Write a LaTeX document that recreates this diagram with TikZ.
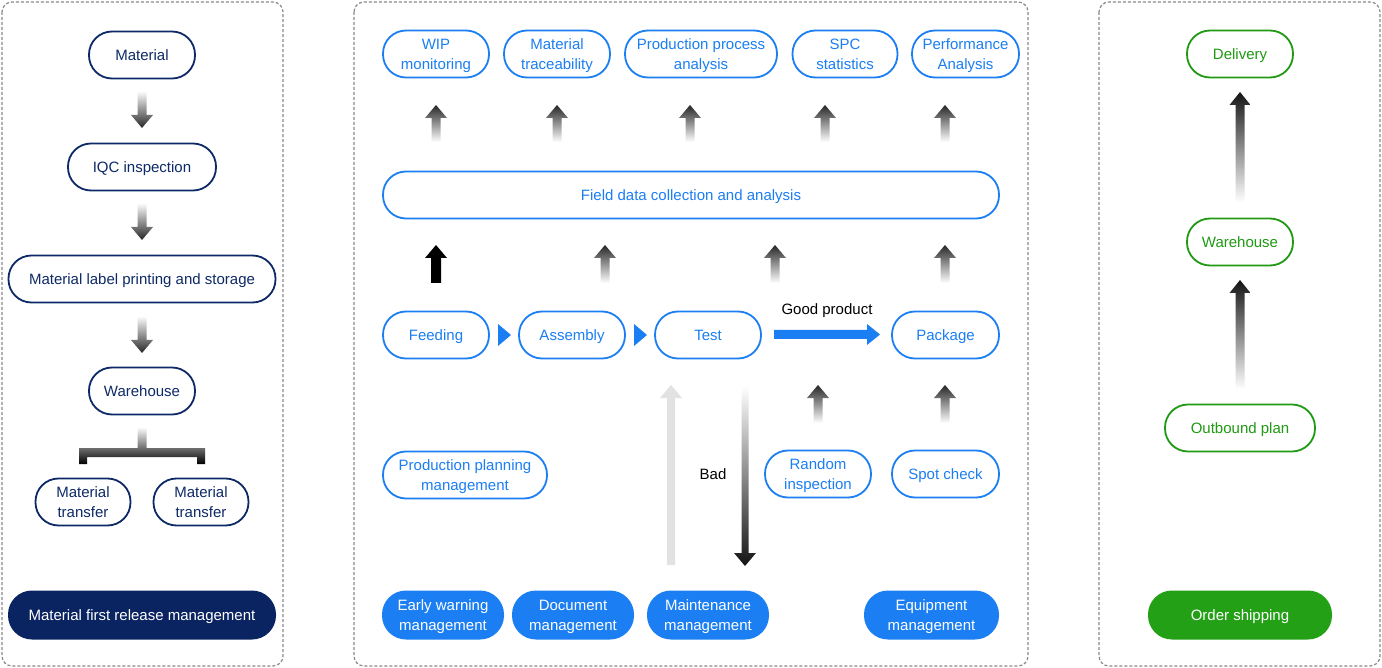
\documentclass[tikz,border=0pt]{standalone}
\usepackage{fontspec}
\setmainfont{Liberation Sans}
\usetikzlibrary{calc}
\definecolor{blu}{HTML}{1B7EF2}
\definecolor{navy}{HTML}{0E2A66}
\definecolor{navyfill}{HTML}{0A2361}
\definecolor{grn}{HTML}{1F9A12}
\definecolor{grnfill}{HTML}{24A017}
\definecolor{panelgray}{HTML}{8A8A8A}
\definecolor{lightgr}{HTML}{E2E2E2}
% block arrow: x, tip y, head-base y, tail y, half head, half shaft, style
\newcommand\blkarrow[7]{\path[#7] (#1-#5,#3) -- (#1,#2) -- (#1+#5,#3) -- (#1+#6,#3) -- (#1+#6,#4) -- (#1-#6,#4) -- (#1-#6,#3) -- cycle;}
\begin{document}
\begin{tikzpicture}[x=1pt,y=-1pt,
  basebox/.style={line width=1.8pt, rounded corners=23pt, minimum height=47pt, inner sep=0pt, align=center, font=\fontsize{15}{20}\selectfont, text depth=0pt},
  one/.style={text height=10.74pt},
  nbox/.style={basebox, draw=navy, text=navy},
  nfill/.style={basebox, fill=navyfill, text=white, minimum height=49pt, rounded corners=24pt},
  bbox/.style={basebox, draw=blu, text=blu},
  bfill/.style={basebox, fill=blu, text=white, minimum height=49pt, rounded corners=24pt},
  gbox/.style={basebox, draw=grn, text=grn},
  gfill/.style={basebox, fill=grnfill, text=white, minimum height=49pt, rounded corners=24pt},
  panel/.style={draw=panelgray, line width=1.2pt, dash pattern=on 3pt off 2pt, rounded corners=10pt},
  lbl/.style={font=\fontsize{15}{18}\selectfont, text=black, inner sep=0pt, text height=10.74pt, text depth=0pt},
  upgrad/.style={top color=black!85, bottom color=white},
  downgrad/.style={top color=white, bottom color=black!85}
]
\useasboundingbox (0,0) rectangle (1382,668);
\fill[white] (0,0) rectangle (1382,668);
% panels
\draw[panel] (2,2) rectangle (283,666);
\draw[panel] (354,2) rectangle (1028,666);
\draw[panel] (1099,2) rectangle (1380,666);

% ---------- left panel ----------
\node[nbox, one, minimum width=106pt] (mat) at (142,55) {Material};
\node[nbox, one, minimum width=148pt] (iqc) at (142,167) {IQC inspection};
\node[nbox, one, minimum width=267pt] (lab) at (142,279) {Material label printing and storage};
\node[nbox, one, minimum width=106pt] (wh) at (142,391) {Warehouse};
\node[nbox, minimum width=95pt] (mt1) at (83,502) {Material\\transfer};
\node[nbox, minimum width=95pt] (mt2) at (201,502) {Material\\transfer};
\node[nfill, one, minimum width=268pt] (mfr) at (142,615) {Material first release management};

\blkarrow{142}{128}{115}{91}{11}{4.5}{downgrad}
\blkarrow{142}{240}{227}{203}{11}{4.5}{downgrad}
\blkarrow{142}{353}{340}{316}{11}{4.5}{downgrad}
% T connector
\shade[top color=white, middle color=black!65, bottom color=black]
  (137.5,427) -- (146.5,427) -- (146.5,448) -- (205,448) -- (205,464) -- (197,464) -- (197,457)
  -- (87,457) -- (87,464) -- (79,464) -- (79,448) -- (137.5,448) -- cycle;

% ---------- middle panel ----------
\node[bbox, minimum width=106pt] (wip) at (436,54) {WIP\\monitoring};
\node[bbox, minimum width=106pt] (mtr) at (557,54) {Material\\traceability};
\node[bbox, minimum width=152pt] (ppa) at (701,54) {Production process\\analysis};
\node[bbox, minimum width=105pt] (spc) at (845,54) {SPC\\statistics};
\node[bbox, minimum width=107pt] (perf) at (965.5,54) {Performance\\Analysis};

\node[bbox, one, minimum width=616pt] (field) at (691,195) {Field data collection and analysis};

\node[bbox, one, minimum width=106pt] (feed) at (436,335) {Feeding};
\node[bbox, one, minimum width=106pt] (asm) at (572,335) {Assembly};
\node[bbox, one, minimum width=106pt] (test) at (708,335) {Test};
\node[bbox, one, minimum width=107pt] (pkg) at (945.5,335) {Package};

\node[bbox, minimum width=164pt] (ppm) at (465,475) {Production planning\\management};
\node[bbox, minimum width=106pt] (rnd) at (818,474) {Random\\inspection};
\node[bbox, one, minimum width=107pt] (spot) at (945.5,474) {Spot check};

\node[bfill, minimum width=122pt] (ew) at (443,615) {Early warning\\management};
\node[bfill, minimum width=122pt] (doc) at (573,615) {Document\\management};
\node[bfill, minimum width=122pt] (mnt) at (708,615) {Maintenance\\management};
\node[bfill, minimum width=135pt] (eq) at (931.5,615) {Equipment\\management};

% row 1 arrows
\blkarrow{436}{105}{118}{142}{11}{4.5}{upgrad}
\blkarrow{557}{105}{118}{142}{11}{4.5}{upgrad}
\blkarrow{690}{105}{118}{142}{11}{4.5}{upgrad}
\blkarrow{825}{105}{118}{142}{11}{4.5}{upgrad}
\blkarrow{945}{105}{118}{142}{11}{4.5}{upgrad}
% row 2 arrows
\blkarrow{436}{245}{258}{283}{11}{5}{fill=black}
\blkarrow{605}{245}{258}{283}{11}{4.5}{upgrad}
\blkarrow{775}{245}{258}{283}{11}{4.5}{upgrad}
\blkarrow{945}{245}{258}{283}{11}{4.5}{upgrad}
% flow triangles
\fill[blu] (498,324) -- (511,335) -- (498,346) -- cycle;
\fill[blu] (634,324) -- (647,335) -- (634,346) -- cycle;
% good product
\fill[blu] (774,330) -- (867,330) -- (867,324) -- (880,334.5) -- (867,345) -- (867,339) -- (774,339) -- cycle;
\node[lbl] (good) at (827,309) {Good product};
% maintenance loop
\blkarrow{671}{385}{398}{565}{11}{4}{fill=lightgr}
\blkarrow{745}{566}{553}{386}{11}{3.5}{top color=white, bottom color=black!92}
\node[lbl] (bad) at (713,474) {Bad};
% inspection arrows
\blkarrow{818}{385}{398}{423}{11}{4.5}{upgrad}
\blkarrow{945}{385}{398}{423}{11}{4.5}{upgrad}

% ---------- right panel ----------
\node[gbox, one, minimum width=106pt] (del) at (1240,54) {Delivery};
\node[gbox, one, minimum width=106pt] (wh2) at (1240,242) {Warehouse};
\node[gbox, one, minimum width=150pt] (obp) at (1240,428) {Outbound plan};
\node[gfill, one, minimum width=184pt] (osh) at (1240,615) {Order shipping};
\blkarrow{1240}{92}{105}{202}{10.5}{4.5}{top color=black!92, bottom color=white}
\blkarrow{1240}{280}{293}{389}{10.5}{4.5}{top color=black!92, bottom color=white}
\end{tikzpicture}
\end{document}
